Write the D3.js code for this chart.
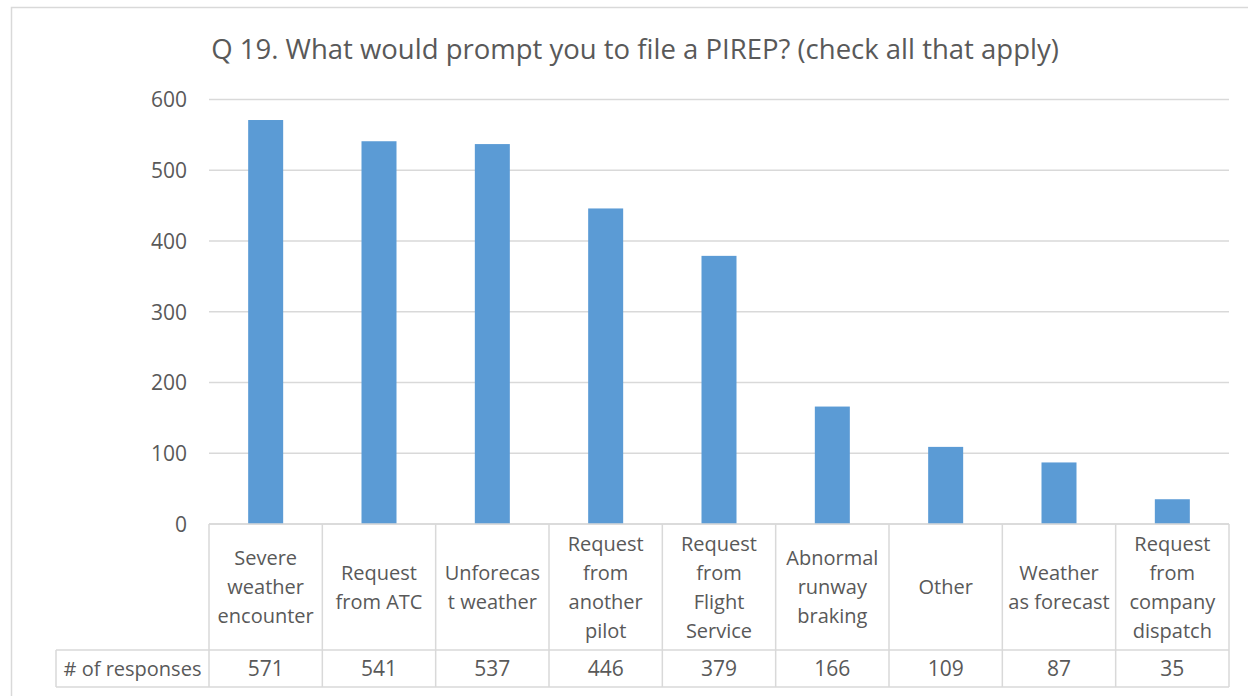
<!DOCTYPE html>
<html>
<head>
<meta charset="utf-8">
<title>Q 19. PIREP</title>
<script src="https://d3js.org/d3.v7.min.js"></script>
<style>
body { margin: 0; background: #fff; }
text { font-family: "Open Sans", "Noto Sans", sans-serif; fill: #595959; }
</style>
</head>
<body>
<script>
// data
var categories = [
  ["Severe", "weather", "encounter"],
  ["Request", "from ATC"],
  ["Unforecas", "t weather"],
  ["Request", "from", "another", "pilot"],
  ["Request", "from", "Flight", "Service"],
  ["Abnormal", "runway", "braking"],
  ["Other"],
  ["Weather", "as forecast"],
  ["Request", "from", "company", "dispatch"]
];
var responses = [571, 541, 537, 446, 379, 166, 109, 87, 35];
var seriesName = "# of responses";
var yTicks = [0, 100, 200, 300, 400, 500, 600];
var title = "Q 19. What would prompt you to file a PIREP? (check all that apply)";

var width = 1248, height = 696;
var plotL = 209, plotR = 1229, plotT = 99.5, plotB = 524;
var row1 = 650, row2 = 687, labelLeft = 56;

var svg = d3.select("body").append("svg")
  .attr("width", width)
  .attr("height", height);

// chart border
svg.append("rect")
  .attr("x", 11.5).attr("y", 7.5)
  .attr("width", 1260).attr("height", 720)
  .attr("fill", "none")
  .attr("stroke", "#d9d9d9")
  .attr("stroke-width", 1.5);

svg.append("text")
  .attr("x", 635).attr("y", 59)
  .attr("text-anchor", "middle")
  .style("font-size", "27.5px")
  .text(title);

var x = d3.scaleBand()
  .domain(d3.range(categories.length))
  .range([plotL, plotR])
  .paddingInner(0).paddingOuter(0);

var y = d3.scaleLinear().domain([0, 600]).range([plotB, plotT]);

// gridlines
svg.append("g")
  .selectAll("line")
  .data(yTicks)
  .enter().append("line")
  .attr("x1", plotL).attr("x2", plotR)
  .attr("y1", function(d) { return y(d); })
  .attr("y2", function(d) { return y(d); })
  .attr("stroke", "#d9d9d9")
  .attr("stroke-width", 1.5);

// y axis labels
var yAxis = d3.axisLeft(y).tickValues(yTicks).tickSize(0).tickPadding(0);
var ya = svg.append("g").attr("transform", "translate(187,0)").call(yAxis);
ya.select(".domain").remove();
ya.selectAll("text")
  .style("font-size", "21px")
  .attr("font-family", null)
  .attr("fill", "#595959")
  .attr("dy", "0.35em");

// bars
var barW = 35;
svg.append("g")
  .selectAll("rect")
  .data(responses)
  .enter().append("rect")
  .attr("x", function(d, i) { return x(i) + x.bandwidth() / 2 - barW / 2; })
  .attr("y", function(d) { return y(d); })
  .attr("width", barW)
  .attr("height", function(d) { return y(0) - y(d); })
  .attr("fill", "#5b9bd5");

// data table
var grid = svg.append("g")
  .attr("stroke", "#d9d9d9")
  .attr("stroke-width", 1.5)
  .attr("fill", "none");

grid.append("line").attr("x1", plotL).attr("x2", plotR).attr("y1", plotB).attr("y2", plotB);
grid.append("line").attr("x1", labelLeft).attr("x2", plotR).attr("y1", row1).attr("y2", row1);
grid.append("line").attr("x1", labelLeft).attr("x2", plotR).attr("y1", row2).attr("y2", row2);
grid.append("line").attr("x1", labelLeft).attr("x2", labelLeft).attr("y1", row1).attr("y2", row2);

grid.selectAll(".v")
  .data(d3.range(categories.length + 1))
  .enter().append("line")
  .attr("x1", function(i) { return plotL + i * x.bandwidth(); })
  .attr("x2", function(i) { return plotL + i * x.bandwidth(); })
  .attr("y1", plotB).attr("y2", row2);

var lineH = 29;
var catText = svg.append("g")
  .selectAll("text")
  .data(categories)
  .enter().append("text")
  .attr("text-anchor", "middle")
  .style("font-size", "20px");

catText.each(function(lines, i) {
  var cy = (plotB + row1) / 2;
  var startY = cy - (lines.length - 1) * lineH / 2;
  d3.select(this).selectAll("tspan")
    .data(lines)
    .enter().append("tspan")
    .attr("x", x(i) + x.bandwidth() / 2)
    .attr("y", function(d, k) { return startY + k * lineH; })
    .attr("dy", "0.35em")
    .text(function(d) { return d; });
});

svg.append("text")
  .attr("x", (labelLeft + plotL) / 2)
  .attr("y", (row1 + row2) / 2)
  .attr("dy", "0.35em")
  .attr("text-anchor", "middle")
  .style("font-size", "20px")
  .text(seriesName);

svg.append("g")
  .selectAll("text")
  .data(responses)
  .enter().append("text")
  .attr("x", function(d, i) { return x(i) + x.bandwidth() / 2; })
  .attr("y", (row1 + row2) / 2)
  .attr("dy", "0.35em")
  .attr("text-anchor", "middle")
  .style("font-size", "21px")
  .text(function(d) { return d; });
</script>
</body>
</html>
